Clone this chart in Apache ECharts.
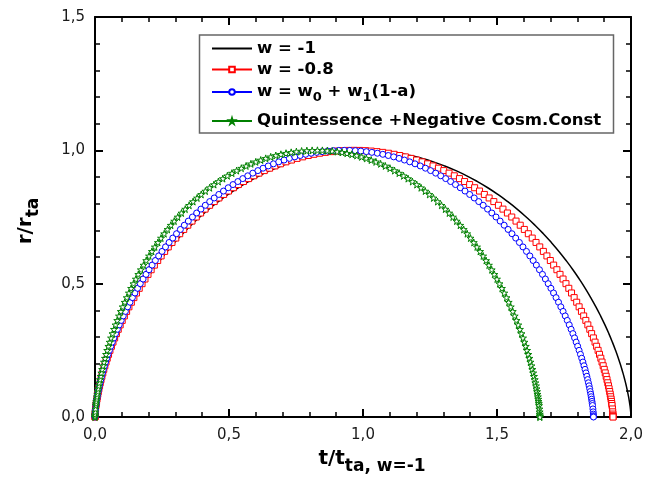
<!DOCTYPE html>
<html><head><meta charset="utf-8">
<script src="https://cdn.jsdelivr.net/npm/echarts@6/dist/echarts.min.js"></script>
<style>html,body{margin:0;padding:0;background:#fff}#c{width:661px;height:482px}</style>
</head><body><div id="c"></div>
<script>
// ---- data ----
const seriesNames = ['w = -1', 'w = -0.8', 'w = w0 + w1(1-a)', 'Quintessence +Negative Cosm.Const'];
const xTickValues = [0, 0.5, 1, 1.5, 2];
const xTickLabels = ['0,0', '0,5', '1,0', '1,5', '2,0'];
const yTickValues = [0, 0.5, 1, 1.5];
const yTickLabels = ['0,0', '0,5', '1,0', '1,5'];

// w = -1 (solid black line)
const blackT = [0, .00002, .00014, .00049, .00115, .00224, .00387, .00612, .00910, .01290, .01762, .02333, .03012, .03806, .04722, .05767, .06946, .08265, .09727, .11337, .13097, .15010, .17077, .19300, .21677, .24208, .26892, .29727, .32709, .35835, .39100, .42500, .46028, .49678, .53444, .57317, .61290, .65355, .69501, .73720, .78002, .82337, .86715, .91126, .95558, 1,
  1.04443, 1.08874, 1.13285, 1.17663, 1.21998, 1.26280, 1.30499, 1.34646, 1.38710, 1.42683, 1.46556, 1.50322, 1.53972, 1.57500, 1.60900, 1.64165, 1.67291, 1.70273, 1.73108, 1.75792, 1.78323, 1.80701, 1.82923, 1.84990, 1.86903, 1.88663, 1.90273, 1.91735, 1.93054, 1.94233, 1.95278, 1.96194, 1.96988, 1.97667, 1.98238, 1.98710, 1.99090, 1.99388, 1.99614, 1.99776, 1.99885, 1.99951, 1.99986, 1.99998, 2];
const blackR = [0, .0012, .0049, .0109, .0194, .0302, .0432, .0585, .0760, .0955, .1170, .1403, .1654, .1922, .2204, .2500, .2808, .3127, .3455, .3790, .4132, .4477, .4826, .5174, .5523, .5868, .6210, .6545, .6873, .7192, .7500, .7796, .8078, .8346, .8597, .8830, .9045, .9240, .9415, .9568, .9698, .9806, .9891, .9951, .9988, 1,
  .9988, .9951, .9891, .9806, .9698, .9568, .9415, .9240, .9045, .8830, .8597, .8346, .8078, .7796, .7500, .7192, .6873, .6545, .6210, .5868, .5523, .5174, .4826, .4477, .4132, .3790, .3455, .3127, .2808, .2500, .2204, .1922, .1654, .1403, .1170, .0955, .0760, .0585, .0432, .0302, .0194, .0109, .0049, .0012, 0];

// w = -0.8 (red squares)
const redT = [0, .00002, .00014, .00047, .00111, .00217, .00374, .00474, .00591, .00726, .00879, .01053, .01247, .01463, .01703, .01966, .02255, .02569, .02911, .03280, .03678, .04106, .04564, .05053, .05574, .06127, .06713, .07333, .07988, .08677, .09401, .10161, .10957, .11789, .12658, .13564, .14507, .15487, .16505, .17560, .18653, .19783, .20951, .22155, .23397, .24676, .25991, .27343, .28731, .30155, .31613, .33107, .34634, .36196, .37790, .39417, .41076, .42766, .44486, .46236, .48014, .49820, .51654, .53513, .55397, .57306, .59237, .61191, .63165, .65159, .67172, .69203, .71250, .73313, .75389, .77478, .79579, .81690, .83810, .85938, .88073, .90213, .92356, .94502, .96650,
  .98798, 1.00944, 1.03087, 1.05227, 1.07362, 1.09490, 1.11610, 1.13721, 1.15822, 1.17911, 1.19988, 1.22050, 1.24097, 1.26128, 1.28141, 1.30135, 1.32110, 1.34063, 1.35995, 1.37903, 1.39787, 1.41646, 1.43480, 1.45286, 1.47064, 1.48814, 1.50534, 1.52224, 1.53883, 1.55510, 1.57104, 1.58666, 1.60193, 1.61687, 1.63145, 1.64569, 1.65957, 1.67309, 1.68624, 1.69903, 1.71145, 1.72349, 1.73517, 1.74647, 1.75740, 1.76795, 1.77813, 1.78793, 1.79736, 1.80642, 1.81511, 1.82343, 1.83139, 1.83899, 1.84623, 1.85312, 1.85967, 1.86587, 1.87173, 1.87726, 1.88247, 1.88736, 1.89194, 1.89622, 1.90020, 1.90389, 1.90731, 1.91045, 1.91334, 1.91597, 1.91837, 1.92053, 1.92247, 1.92421, 1.92574, 1.92709, 1.92826, 1.92926, 1.93083, 1.93189, 1.93253, 1.93286, 1.93298, 1.93300];
const redR = [0, .0012, .0049, .0109, .0194, .0302, .0432, .0506, .0585, .0670, .0760, .0855, .0955, .1060, .1170, .1284, .1403, .1527, .1654, .1786, .1922, .2061, .2204, .2350, .2500, .2653, .2808, .2966, .3127, .3290, .3455, .3622, .3790, .3960, .4132, .4304, .4477, .4651, .4826, .5000, .5174, .5349, .5523, .5696, .5868, .6040, .6210, .6378, .6545, .6710, .6873, .7034, .7192, .7347, .7500, .7650, .7796, .7939, .8078, .8214, .8346, .8473, .8597, .8716, .8830, .8940, .9045, .9145, .9240, .9330, .9415, .9494, .9568, .9636, .9698, .9755, .9806, .9851, .9891, .9924, .9951, .9973, .9988, .9997, 1,
  .9997, .9988, .9973, .9951, .9924, .9891, .9851, .9806, .9755, .9698, .9636, .9568, .9494, .9415, .9330, .9240, .9145, .9045, .8940, .8830, .8716, .8597, .8473, .8346, .8214, .8078, .7939, .7796, .7650, .7500, .7347, .7192, .7034, .6873, .6710, .6545, .6378, .6210, .6040, .5868, .5696, .5523, .5349, .5174, .5000, .4826, .4651, .4477, .4304, .4132, .3960, .3790, .3622, .3455, .3290, .3127, .2966, .2808, .2653, .2500, .2350, .2204, .2061, .1922, .1786, .1654, .1527, .1403, .1284, .1170, .1060, .0955, .0855, .0760, .0670, .0585, .0506, .0432, .0302, .0194, .0109, .0049, .0012, 0];

// w = w0 + w1(1-a) (blue circles)
const blueT = [0, .00002, .00013, .00045, .00107, .00209, .00359, .00456, .00569, .00699, .00846, .01013, .01200, .01408, .01638, .01892, .02170, .02472, .02801, .03156, .03539, .03951, .04391, .04862, .05363, .05896, .06460, .07057, .07686, .08349, .09046, .09777, .10543, .11344, .12180, .13052, .13959, .14903, .15882, .16897, .17949, .19036, .20159, .21319, .22514, .23744, .25010, .26311, .27646, .29016, .30419, .31857, .33327, .34829, .36363, .37929, .39525, .41151, .42806, .44490, .46201, .47939, .49703, .51492, .53305, .55141, .57000, .58880, .60780, .62699, .64636, .66590, .68560, .70544, .72542, .74552, .76574, .78605, .80645, .82693, .84747, .86806, .88868, .90934, .93000,
  .95067, .97132, .99194, 1.01253, 1.03307, 1.05355, 1.07395, 1.09426, 1.11448, 1.13458, 1.15456, 1.17440, 1.19410, 1.21364, 1.23301, 1.25220, 1.27120, 1.29000, 1.30859, 1.32695, 1.34508, 1.36297, 1.38061, 1.39799, 1.41510, 1.43194, 1.44849, 1.46475, 1.48071, 1.49637, 1.51171, 1.52673, 1.54144, 1.55581, 1.56984, 1.58354, 1.59689, 1.60990, 1.62256, 1.63486, 1.64681, 1.65841, 1.66964, 1.68051, 1.69103, 1.70118, 1.71097, 1.72041, 1.72948, 1.73820, 1.74656, 1.75457, 1.76223, 1.76954, 1.77651, 1.78314, 1.78944, 1.79540, 1.80105, 1.80637, 1.81138, 1.81609, 1.82049, 1.82461, 1.82844, 1.83199, 1.83528, 1.83830, 1.84108, 1.84362, 1.84592, 1.84800, 1.84987, 1.85154, 1.85301, 1.85431, 1.85544, 1.85641, 1.85791, 1.85893, 1.85955, 1.85987, 1.85998, 1.86000];
const blueR = [0, .0012, .0049, .0109, .0194, .0302, .0432, .0506, .0585, .0670, .0760, .0855, .0955, .1060, .1170, .1284, .1403, .1527, .1654, .1786, .1922, .2061, .2204, .2350, .2500, .2653, .2808, .2966, .3127, .3290, .3455, .3622, .3790, .3960, .4132, .4304, .4477, .4651, .4826, .5000, .5174, .5349, .5523, .5696, .5868, .6040, .6210, .6378, .6545, .6710, .6873, .7034, .7192, .7347, .7500, .7650, .7796, .7939, .8078, .8214, .8346, .8473, .8597, .8716, .8830, .8940, .9045, .9145, .9240, .9330, .9415, .9494, .9568, .9636, .9698, .9755, .9806, .9851, .9891, .9924, .9951, .9973, .9988, .9997, 1,
  .9997, .9988, .9973, .9951, .9924, .9891, .9851, .9806, .9755, .9698, .9636, .9568, .9494, .9415, .9330, .9240, .9145, .9045, .8940, .8830, .8716, .8597, .8473, .8346, .8214, .8078, .7939, .7796, .7650, .7500, .7347, .7192, .7034, .6873, .6710, .6545, .6378, .6210, .6040, .5868, .5696, .5523, .5349, .5174, .5000, .4826, .4651, .4477, .4304, .4132, .3960, .3790, .3622, .3455, .3290, .3127, .2966, .2808, .2653, .2500, .2350, .2204, .2061, .1922, .1786, .1654, .1527, .1403, .1284, .1170, .1060, .0955, .0855, .0760, .0670, .0585, .0506, .0432, .0302, .0194, .0109, .0049, .0012, 0];

// Quintessence + negative cosmological constant (green stars)
const greenT = [0, .00001, .00011, .00038, .00091, .00177, .00305, .00388, .00483, .00593, .00719, .00861, .01019, .01196, .01392, .01607, .01843, .02100, .02379, .02681, .03007, .03356, .03730, .04130, .04556, .05008, .05487, .05994, .06529, .07092, .07684, .08305, .08956, .09636, .10347, .11087, .11858, .12659, .13491, .14354, .15247, .16170, .17125, .18109, .19124, .20170, .21245, .22350, .23484, .24648, .25840, .27061, .28310, .29586, .30889, .32273, .33690, .35133, .36606, .38111, .39643, .41203, .42793, .44405, .46043, .47710, .49400, .51113, .52852, .54608, .56386, .58189, .60008, .61846, .63704, .65574, .67459, .69364, .71280, .73208, .75151, .77098, .79055, .81026, .83000,
  .84844, .86687, .88528, .90366, .92199, .94026, .95847, .97660, .99464, 1.01258, 1.03042, 1.04812, 1.06571, 1.08314, 1.10043, 1.11756, 1.13452, 1.15129, 1.16788, 1.18427, 1.20045, 1.21641, 1.23216, 1.24767, 1.26294, 1.27797, 1.29274, 1.30725, 1.32150, 1.33547, 1.34916, 1.36257, 1.37569, 1.38851, 1.40104, 1.41327, 1.42519, 1.43679, 1.44809, 1.45907, 1.46974, 1.48008, 1.49011, 1.49981, 1.50920, 1.51826, 1.52700, 1.53542, 1.54352, 1.55129, 1.55876, 1.56591, 1.57274, 1.57927, 1.58549, 1.59140, 1.59702, 1.60235, 1.60738, 1.61213, 1.61661, 1.62081, 1.62474, 1.62841, 1.63183, 1.63500, 1.63794, 1.64064, 1.64312, 1.64538, 1.64743, 1.64929, 1.65096, 1.65245, 1.65377, 1.65492, 1.65593, 1.65679, 1.65814, 1.65904, 1.65960, 1.65988, 1.65999, 1.66000];
const greenR = [0, .0012, .0049, .0109, .0194, .0302, .0432, .0506, .0585, .0670, .0760, .0855, .0955, .1060, .1170, .1284, .1403, .1527, .1654, .1786, .1922, .2061, .2204, .2350, .2500, .2653, .2808, .2966, .3127, .3290, .3455, .3622, .3790, .3960, .4132, .4304, .4477, .4651, .4826, .5000, .5174, .5349, .5523, .5696, .5868, .6040, .6210, .6378, .6545, .6710, .6873, .7034, .7192, .7347, .7500, .7650, .7796, .7939, .8078, .8214, .8346, .8473, .8597, .8716, .8830, .8940, .9045, .9145, .9240, .9330, .9415, .9494, .9568, .9636, .9698, .9755, .9806, .9851, .9891, .9924, .9951, .9973, .9988, .9997, 1,
  .9997, .9988, .9973, .9951, .9924, .9891, .9851, .9806, .9755, .9698, .9636, .9568, .9494, .9415, .9330, .9240, .9145, .9045, .8940, .8830, .8716, .8597, .8473, .8346, .8214, .8078, .7939, .7796, .7650, .7500, .7347, .7192, .7034, .6873, .6710, .6545, .6378, .6210, .6040, .5868, .5696, .5523, .5349, .5174, .5000, .4826, .4651, .4477, .4304, .4132, .3960, .3790, .3622, .3455, .3290, .3127, .2966, .2808, .2653, .2500, .2350, .2204, .2061, .1922, .1786, .1654, .1527, .1403, .1284, .1170, .1060, .0955, .0855, .0760, .0670, .0585, .0506, .0432, .0302, .0194, .0109, .0049, .0012, 0];

// ---- chart ----
const FONT = 'DejaVu Sans';
const pairs = (T, R) => T.map((t, i) => [t, R[i]]);
const starPath = 'path://M50,0 L61,35 L98,35 L68,57 L79,91 L50,70 L21,91 L32,57 L2,35 L39,35 Z';

function fmtX(v) { const i = xTickValues.findIndex(t => Math.abs(t - v) < 1e-6); return i >= 0 ? xTickLabels[i] : ''; }
function fmtY(v) { const i = yTickValues.findIndex(t => Math.abs(t - v) < 1e-6); return i >= 0 ? yTickLabels[i] : ''; }

const axisCommon = {
  type: 'value',
  axisLine: { show: true, onZero: false, lineStyle: { color: '#000', width: 2 } },
  axisTick: { show: true, inside: true, length: 8, lineStyle: { color: '#000', width: 2 } },
  minorTick: { show: true, splitNumber: 5, length: 5, lineStyle: { color: '#000', width: 1.5 } },
  splitLine: { show: false },
  minorSplitLine: { show: false }
};
const labelStyle = { fontFamily: FONT, fontSize: 15, color: '#1a1a1a' };
const titleRich = {
  m: { fontFamily: FONT, fontSize: 20, fontWeight: 'bold', color: '#000', lineHeight: 32 },
  s: { fontFamily: FONT, fontSize: 17, fontWeight: 'bold', color: '#000', lineHeight: 18, verticalAlign: 'bottom' }
};

const legendText = {
  fontFamily: FONT, fontSize: 16.5, fontWeight: 'bold', color: '#000', lineHeight: 20,
  rich: {
    a: { fontFamily: FONT, fontSize: 16.5, fontWeight: 'bold', color: '#000', lineHeight: 24 },
    s: { fontFamily: FONT, fontSize: 13, fontWeight: 'bold', color: '#000', lineHeight: 14, verticalAlign: 'bottom' }
  }
};
function mkLegend(item, top, formatter) {
  const l = { data: [item], left: 211, top: top, padding: 0, itemWidth: 40, itemHeight: 7,
    selectedMode: false, textStyle: legendText };
  if (formatter) l.formatter = formatter;
  return l;
}

const option = {
  animation: false,
  backgroundColor: '#fff',
  grid: { left: 95, right: 30, top: 17, bottom: 65, containLabel: false },
  xAxis: [
    Object.assign({}, axisCommon, {
      min: 0, max: 2, interval: 0.5, position: 'bottom',
      axisLabel: Object.assign({ margin: 11, formatter: fmtX }, labelStyle),
      name: '{m|t/t}{s|ta, w=-1}', nameLocation: 'middle', nameGap: 26,
      nameTextStyle: { rich: titleRich, padding: [0, 0, 0, 18] }
    }),
    Object.assign({}, axisCommon, {
      min: 0, max: 2, interval: 0.5, position: 'top', axisLabel: { show: false }
    })
  ],
  yAxis: [
    Object.assign({}, axisCommon, {
      min: 0, max: 1.5, interval: 0.5, position: 'left',
      axisLabel: Object.assign({ margin: 10, formatter: fmtY }, labelStyle),
      name: '{m|r/r}{s|ta}', nameLocation: 'middle', nameGap: 53,
      nameTextStyle: { rich: titleRich, padding: [0, 8, 0, 0] }
    }),
    Object.assign({}, axisCommon, {
      min: 0, max: 1.5, interval: 0.5, position: 'right', axisLabel: { show: false }
    })
  ],
  legend: [
    mkLegend({ name: seriesNames[0], itemStyle: { opacity: 0 } }, 38.5),
    mkLegend(seriesNames[1], 59.5),
    mkLegend(seriesNames[2], 80, '{a|w = w}{s|0}{a| + w}{s|1}{a|(1-a)}'),
    mkLegend(seriesNames[3], 111)
  ],
  graphic: [{
    type: 'rect', z: -1, silent: true,
    shape: { x: 199.5, y: 35, width: 414, height: 98 },
    style: { fill: '#fff', stroke: '#666', lineWidth: 1.5 }
  }],
  series: [
    { name: seriesNames[0], type: 'line', data: pairs(blackT, blackR), symbol: 'none', smooth: true,
      lineStyle: { color: '#000', width: 1.5 }, itemStyle: { color: '#000' }, z: 2 },
    { name: seriesNames[1], type: 'line', data: pairs(redT, redR), symbol: 'rect', symbolSize: 6,
      lineStyle: { color: '#ff0000', width: 1 }, itemStyle: { color: '#fff', borderColor: '#ff0000', borderWidth: 1 }, z: 3 },
    { name: seriesNames[2], type: 'line', data: pairs(blueT, blueR), symbol: 'circle', symbolSize: 6,
      lineStyle: { color: '#0000ff', width: 1 }, itemStyle: { color: '#fff', borderColor: '#0000ff', borderWidth: 1 }, z: 4 },
    { name: seriesNames[3], type: 'line', data: pairs(greenT, greenR), symbol: starPath, symbolSize: 7,
      lineStyle: { color: '#008000', width: 1 }, itemStyle: { color: '#fff', borderColor: '#008000', borderWidth: 1 }, z: 5 }
  ]
};
const chart = echarts.init(document.getElementById('c'), null, { renderer: 'canvas' });
chart.setOption(option);
</script></body></html>
